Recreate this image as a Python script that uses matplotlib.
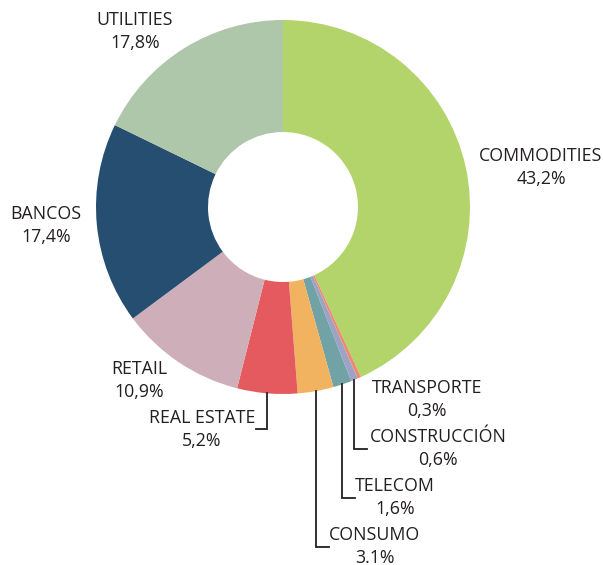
import matplotlib
matplotlib.use('Agg')
import numpy as np
import matplotlib.pyplot as plt

# sectors, clockwise from 12 o'clock
sectors = ['COMMODITIES', 'TRANSPORTE', 'CONSTRUCCIÓN', 'TELECOM', 'CONSUMO',
           'REAL ESTATE', 'RETAIL', 'BANCOS', 'UTILITIES']
shares = [43.2, 0.3, 0.6, 1.6, 3.1, 5.2, 10.9, 17.4, 17.8]
share_labels = ['43,2%', '0,3%', '0,6%', '1,6%', '3.1%', '5,2%', '10,9%', '17,4%', '17,8%']
colors = ['#b2d46a', '#f08a6c', '#9ea3c6', '#71a3a6', '#f2b360',
          '#e45a5e', '#ceaeb8', '#264e70', '#aec6a9']

W, H = 603, 565
fig = plt.figure(figsize=(W / 100, H / 100), dpi=100)
ax = fig.add_axes([0, 0, 1, 1])

cx, cy = 283, H - 207
R = 187
ax.pie(shares, colors=colors, startangle=90, counterclock=False,
       center=(cx, cy), radius=R, frame=True,
       wedgeprops=dict(width=112, linewidth=0))
ax.set_xlim(0, W)
ax.set_ylim(0, H)
ax.set_aspect('equal')
ax.axis('off')

ink = '#231f20'
plt.rcParams['font.family'] = ['Open Sans', 'DejaVu Sans']

# label positions (pixel coords from top)
label_pos = {
    'COMMODITIES': (541, 156),
    'TRANSPORTE': (427, 388),
    'CONSTRUCCIÓN': (438, 437),
    'TELECOM': (395, 486),
    'CONSUMO': (375, 535),
    'REAL ESTATE': (202, 418),
    'RETAIL': (139, 369),
    'BANCOS': (46, 214),
    'UTILITIES': (135, 20),
}
for name, pct in zip(sectors, share_labels):
    x, y = label_pos[name]
    ax.text(x, H - y, name, ha='center', va='center', fontsize=12.8, color=ink)
    ax.text(x, H - y - 23, pct, ha='center', va='center', fontsize=12.8, color=ink)

# elbow leaders: (sector, elbow y px, end x px)
leaders = [('CONSTRUCCIÓN', 449, 367), ('TELECOM', 498, 355),
           ('CONSUMO', 547, 329), ('REAL ESTATE', 429, 256)]
cum = np.cumsum([0] + shares[:-1])
total = sum(shares)
for name, ey, ex in leaders:
    i = sectors.index(name)
    ang = np.deg2rad((cum[i] + shares[i] / 2) / total * 360)
    sx = cx + R * np.sin(ang)
    sy = cy + R * np.cos(ang)
    ax.plot([sx, sx, ex], [sy, H - ey, H - ey], color=ink, lw=1.3,
            solid_joinstyle='miter')

fig.savefig('out.png', dpi=100)
